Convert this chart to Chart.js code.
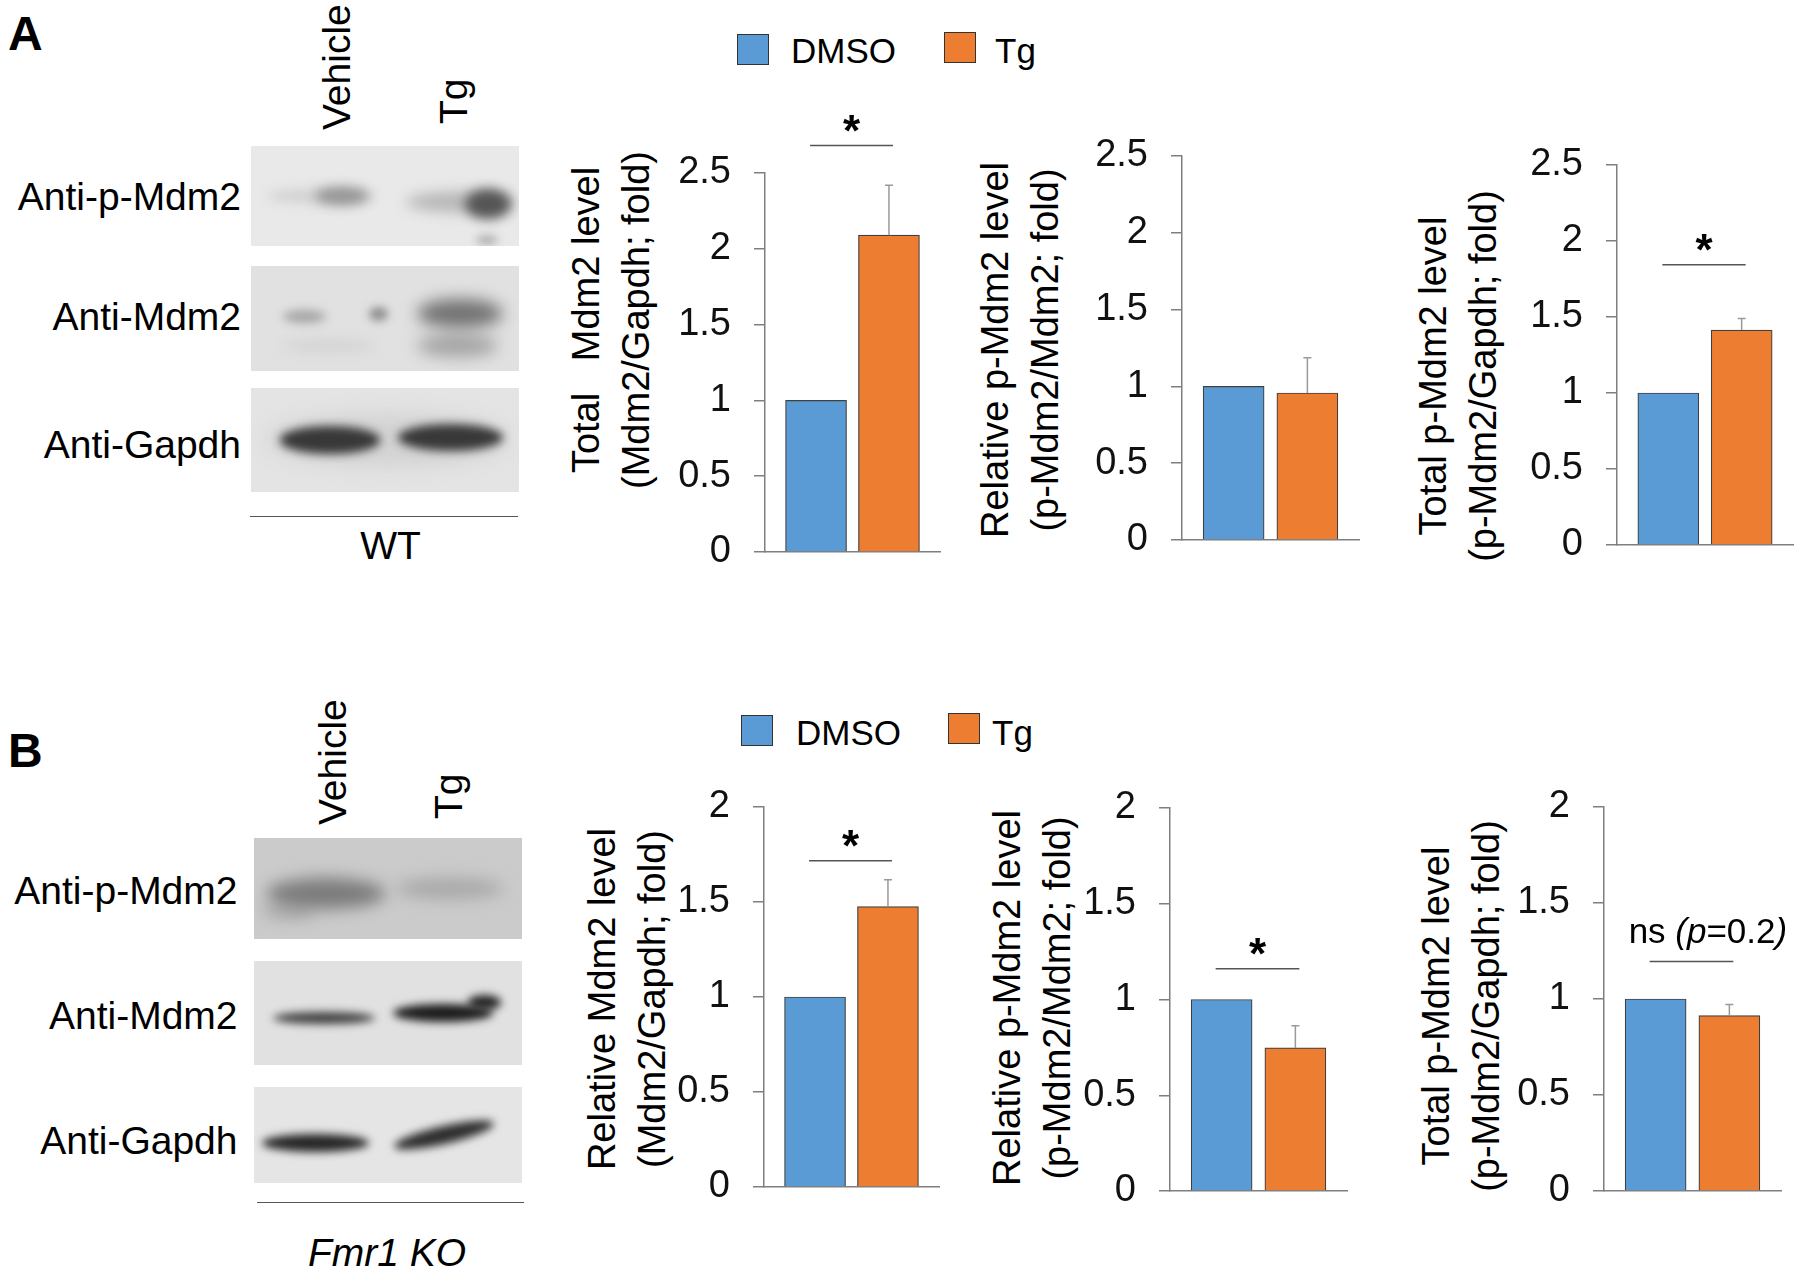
<!DOCTYPE html>
<html>
<head>
<meta charset="utf-8">
<title>Mdm2 / p-Mdm2 levels after Tg</title>
<script src="https://cdn.jsdelivr.net/npm/chart.js@4.4.1/dist/chart.umd.min.js"></script>
<style>
  html, body { margin: 0; padding: 0; background: #fff; }
  #fig { position: relative; width: 1800px; height: 1270px; overflow: hidden;
         font-family: 'Liberation Sans', Arial, sans-serif; color: #000; }
  #fig > * { position: absolute; }
  .t { line-height: 1; white-space: pre; }
  .blot { overflow: hidden; }
  .band { position: absolute; border-radius: 50%; }
  .rule { height: 0; border-top: 1.5px solid #555; }
  .key { box-sizing: border-box; border: 1.5px solid #333; width: 32px; height: 31px; }
</style>
</head>
<body>
<div id="fig"></div>
<script>
// ---- data ----
const groups = ['DMSO', 'Tg'];
const groupColors = ['#5b9bd5', '#ed7d31'];
const panelLetters = ['A', 'B'];
const genotypes = ['WT', 'Fmr1 KO'];
const lanes = ['Vehicle', 'Tg'];
const blotRows = ['Anti-p-Mdm2', 'Anti-Mdm2', 'Anti-Gapdh'];

// one entry per bar chart: A1 A2 A3 B1 B2 B3
const yTitleTop = ['Total   Mdm2 level', 'Relative p-Mdm2 level', 'Total p-Mdm2 level',
                   'Relative Mdm2 level', 'Relative p-Mdm2 level', 'Total p-Mdm2 level'];
const yTitleBottom = ['(Mdm2/Gapdh; fold)', '(p-Mdm2/Mdm2; fold)', '(p-Mdm2/Gapdh; fold)',
                      '(Mdm2/Gapdh; fold)', '(p-Mdm2/Mdm2; fold)', '(p-Mdm2/Gapdh; fold)'];
const dmsoMean = [1, 1, 1, 1, 1, 1];
const tgMean = [2.09, 0.957, 1.414, 1.476, 0.747, 0.913];
const tgSem = [0.33, 0.229, 0.076, 0.141, 0.116, 0.058];
const yMax = [2.5, 2.5, 2.5, 2, 2, 2];
const yStep = 0.5;
const sigLevel = [2.682, null, 1.843, 1.717, 1.161, 1.195];
const sigLabel = ['*', null, '*', '*', '*', 'ns (p=0.2)'];

// ---- layout ----
const FONT = "'Liberation Sans', Arial, sans-serif";
const AXIS = '#7f7f7f';
const PAD = {l: 100, t: 70, r: 12, b: 50};
const chartBoxes = [
  {l: 765, t: 173, r: 940, b: 552},
  {l: 1182, t: 156, r: 1359, b: 540},
  {l: 1617, t: 165, r: 1793, b: 545},
  {l: 764, t: 807, r: 939, b: 1187},
  {l: 1170, t: 808, r: 1347, b: 1191},
  {l: 1604, t: 807, r: 1781, b: 1191}
];
const titleCenters = [[611, 320], [1020, 350], [1458, 376], [627, 999], [1032, 998], [1461, 1006]];

const fig = document.getElementById('fig');

function put(tag, cls, css, text) {
  const el = document.createElement(tag);
  if (cls) el.className = cls;
  Object.assign(el.style, css);
  if (text != null) el.textContent = text;
  fig.appendChild(el);
  return el;
}

// anchor 'l' = left edge, 'r' = right edge, 'c' = centre; y is the vertical centre
function label(text, x, y, size, anchor, extra) {
  const tx = anchor === 'r' ? '-100%' : anchor === 'l' ? '0' : '-50%';
  return put('div', 't', Object.assign({
    left: x + 'px', top: y + 'px', fontSize: size + 'px',
    transform: `translate(${tx}, -50%)`
  }, extra || {}), text);
}

// text reading bottom-to-top, starting at yBottom, centred on x
function upLabel(text, x, yBottom, size) {
  return put('div', 't', {
    left: x + 'px', top: yBottom + 'px', fontSize: size + 'px',
    transformOrigin: '0 0', transform: 'rotate(-90deg) translateY(-50%)'
  }, text);
}

// western blot strips (drawn as blurred bands, not data)
const blotLooks = [
  {bg: '#e9e9e9', bands: [[0.06, 0.40, 0.50, 0.14, '#d0d0d0', 6], [0.24, 0.20, 0.50, 0.18, '#949494', 6],
                          [0.58, 0.40, 0.56, 0.20, '#b5b5b5', 7], [0.80, 0.17, 0.58, 0.30, '#555', 6],
                          [0.84, 0.08, 0.94, 0.10, '#b0b0b0', 4]]},
  {bg: '#e1e1e1', bands: [[0.12, 0.34, 0.76, 0.12, '#d3d3d3', 6], [0.12, 0.16, 0.48, 0.13, '#a5a5a5', 5],
                          [0.44, 0.07, 0.46, 0.13, '#8e8e8e', 4],
                          [0.62, 0.30, 0.76, 0.22, '#a3a3a3', 8], [0.62, 0.32, 0.45, 0.28, '#727272', 8]]},
  {bg: '#e4e4e4', bands: [[0.06, 0.90, 0.50, 0.50, '#d2d2d2', 10],
                          [0.11, 0.37, 0.50, 0.26, '#383838', 5], [0.55, 0.39, 0.48, 0.26, '#383838', 5]]},
  {bg: '#cbcbcb', bands: [[0.03, 0.20, 0.72, 0.16, '#a8a8a8', 8],
                          [0.05, 0.44, 0.55, 0.30, '#7b7b7b', 8], [0.53, 0.40, 0.50, 0.20, '#a8a8a8', 8]]},
  {bg: '#e1e1e1', bands: [[0.07, 0.38, 0.55, 0.12, '#3e3e3e', 4], [0.52, 0.37, 0.50, 0.18, '#1c1c1c', 4],
                          [0.80, 0.12, 0.40, 0.14, '#222', 4]]},
  {bg: '#e5e5e5', bands: [[0.03, 0.40, 0.58, 0.19, '#262626', 4], [0.52, 0.38, 0.50, 0.19, '#2e2e2e', 4, -13]]}
];

function blot(x, y, w, h, look) {
  const el = put('div', 'blot', {left: x + 'px', top: y + 'px', width: w + 'px', height: h + 'px', background: look.bg});
  look.bands.forEach(([bx, bw, by, bh, color, blur, rot]) => {
    const b = document.createElement('div');
    b.className = 'band';
    Object.assign(b.style, {
      left: bx * w + 'px', top: (by - bh / 2) * h + 'px', width: bw * w + 'px', height: bh * h + 'px',
      background: color, filter: `blur(${blur}px)`, transform: rot ? `rotate(${rot}deg)` : 'none'
    });
    el.appendChild(b);
  });
}

// ---- left side: blots and labels for each panel ----
const blotPanels = [
  {letterY: 33.5, laneX: [335.5, 452.5], laneY: [130, 124], stripX: 251, stripW: 268,
   stripY: [146, 266, 388], stripH: [100, 105, 104], rowX: 241, rowY: [196, 316, 444],
   ruleX: 250, ruleY: 516, ruleW: 268, genoX: 390.5, genoY: 545},
  {letterY: 751, laneX: [332, 447.5], laneY: [825, 819], stripX: 254, stripW: 268,
   stripY: [838, 961, 1087], stripH: [101, 104, 96], rowX: 237.5, rowY: [890, 1014.5, 1140],
   ruleX: 257, ruleY: 1202, ruleW: 267, genoX: 387, genoY: 1252}
];

blotPanels.forEach((p, k) => {
  label(panelLetters[k], 8, p.letterY, 48, 'l', {fontWeight: 'bold'});
  lanes.forEach((ln, j) => upLabel(ln, p.laneX[j], p.laneY[j], 39));
  blotRows.forEach((row, j) => {
    blot(p.stripX, p.stripY[j], p.stripW, p.stripH[j], blotLooks[k * 3 + j]);
    label(row, p.rowX, p.rowY[j], 39, 'r');
  });
  put('div', 'rule', {left: p.ruleX + 'px', top: p.ruleY + 'px', width: p.ruleW + 'px'});
  label(genotypes[k], p.genoX, p.genoY, 39, 'c', k === 1 ? {fontStyle: 'italic'} : null);
});

// ---- legends ----
const legendSpots = [
  {keyX: [737, 944], keyY: [34, 32], textX: [791, 995], textY: 50},
  {keyX: [741, 948], keyY: [715, 713], textX: [796, 992], textY: 731.5}
];
legendSpots.forEach(s => {
  groups.forEach((g, j) => {
    put('div', 'key', {left: s.keyX[j] + 'px', top: s.keyY[j] + 'px', background: groupColors[j]});
    label(g, s.textX[j], s.textY, 35, 'l');
  });
});

// ---- y-axis titles ----
titleCenters.forEach(([cx, cy], i) => {
  put('div', 't', {
    left: cx + 'px', top: cy + 'px', fontSize: '38px', lineHeight: '50px', textAlign: 'center',
    transform: 'translate(-50%, -50%) rotate(-90deg)'
  }, yTitleTop[i] + '\n' + yTitleBottom[i]);
});

// ---- error bars and significance marks ----
function italicParts(str) {
  // "ns (p=0.2)": brackets and p in italics
  return str.split(/([()p])/).filter(s => s).map(s => [s, /^[()p]$/.test(s)]);
}

const marks = {
  id: 'marks',
  afterDatasetsDraw(chart, args, opt) {
    const i = opt.index;
    const {ctx} = chart;
    const x = chart.scales.x, y = chart.scales.y;
    const cx = x.getPixelForValue(1);
    const top = y.getPixelForValue(tgMean[i] + tgSem[i]);
    ctx.save();
    ctx.strokeStyle = '#9a9a9a';
    ctx.lineWidth = 1.5;
    ctx.beginPath();
    ctx.moveTo(cx, y.getPixelForValue(tgMean[i]));
    ctx.lineTo(cx, top);
    ctx.moveTo(cx - 4, top);
    ctx.lineTo(cx + 4, top);
    ctx.stroke();

    if (sigLevel[i] != null) {
      const ly = y.getPixelForValue(sigLevel[i]);
      const x0 = x.getPixelForValue(0) - 6, x1 = cx + 4;
      ctx.strokeStyle = '#555';
      ctx.beginPath();
      ctx.moveTo(x0, ly);
      ctx.lineTo(x1, ly);
      ctx.stroke();
      ctx.fillStyle = '#000';
      ctx.textBaseline = 'alphabetic';
      const text = sigLabel[i];
      if (text === '*') {
        ctx.font = 'bold 44px ' + FONT;
        const m = ctx.measureText(text);
        ctx.textAlign = 'center';
        ctx.fillText(text, (x0 + x1) / 2, ly - 22 + (m.actualBoundingBoxAscent - m.actualBoundingBoxDescent) / 2);
      } else {
        ctx.font = '35px ' + FONT;
        const m = ctx.measureText(text);
        const base = ly - 28 + (m.actualBoundingBoxAscent - m.actualBoundingBoxDescent) / 2;
        let px = x.getPixelForValue(0) - 27;
        ctx.textAlign = 'left';
        italicParts(text).forEach(([s, it]) => {
          ctx.font = (it ? 'italic ' : '') + '35px ' + FONT;
          ctx.fillText(s, px, base);
          px += ctx.measureText(s).width;
        });
      }
    }
    ctx.restore();
  }
};

// ---- bar charts ----
Chart.defaults.font.family = FONT;
Chart.defaults.color = '#000';

chartBoxes.forEach((box, i) => {
  const w = box.r - box.l + PAD.l + PAD.r;
  const h = box.b - box.t + PAD.t + PAD.b;
  const cv = put('canvas', null, {left: (box.l - PAD.l) + 'px', top: (box.t - PAD.t) + 'px', width: w + 'px', height: h + 'px'});
  cv.width = w;
  cv.height = h;
  const means = [dmsoMean[i], tgMean[i]];

  new Chart(cv, {
    type: 'bar',
    data: {
      datasets: groups.map((g, k) => ({
        label: g,
        data: [{x: k, y: means[k]}],
        backgroundColor: groupColors[k],
        borderColor: '#404040',
        borderWidth: 1.2,
        barThickness: 61,
        grouped: false
      }))
    },
    options: {
      responsive: false,
      animation: false,
      devicePixelRatio: 1,
      events: [],
      layout: {padding: {top: PAD.t, right: PAD.r, bottom: PAD.b, left: 0}},
      plugins: {legend: {display: false}, tooltip: {enabled: false}, marks: {index: i}},
      scales: {
        x: {
          type: 'linear', min: -0.7, max: 1.7, offset: false,
          ticks: {display: false},
          grid: {display: true, drawOnChartArea: false, drawTicks: false, offset: false},
          border: {color: AXIS, width: 1.5},
          afterFit(s) { s.height = 0; }
        },
        y: {
          min: 0, max: yMax[i],
          ticks: {stepSize: yStep, padding: 23, color: '#111', font: {size: 38},
                  callback: v => String(+v.toFixed(2))},
          grid: {drawOnChartArea: false, drawTicks: true, tickLength: 11, color: AXIS, lineWidth: 1.5},
          border: {color: AXIS, width: 1.5},
          afterFit(s) { s.width = PAD.l; }
        }
      }
    },
    plugins: [marks]
  });
});
</script>
</body>
</html>
